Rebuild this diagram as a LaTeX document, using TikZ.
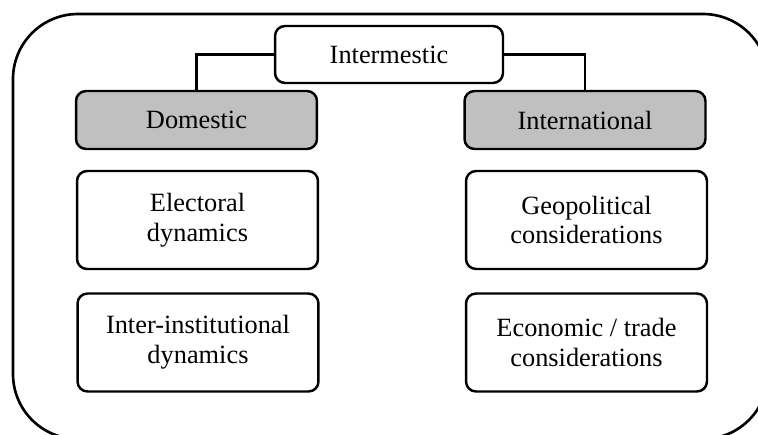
\documentclass[tikz,border=0pt]{standalone}
\usepackage{fontspec}
\setmainfont{Liberation Serif}
\definecolor{headgray}{RGB}{192,192,192}
\begin{document}
\begin{tikzpicture}[x=0.02cm, y=-0.02cm,
    box/.style={draw, line width=1.4pt, rounded corners=0.2cm, align=center,
      font=\fontsize{15}{17}\selectfont, inner sep=0pt,
      minimum width=4.82cm, minimum height=1.96cm},
    headbox/.style={box, fill=headgray, minimum height=1.16cm}]
  \useasboundingbox (0,0) rectangle (758,434);
  % outer frame, runs off the right and bottom
  \draw[line width=1.5pt, rounded corners=1.3cm] (13,14) rectangle (768,439);

  \node[box, minimum width=4.56cm, minimum height=1.14cm] (intermestic) at (389,54.5) {Intermestic};
  \node[headbox] (domestic) at (196.5,120) {Domestic};
  \node[headbox] (international) at (585,120) {International};

  \node[box] (electoral) at (197.5,220) {Electoral\\dynamics};
  \node[box] (institutional) at (198,342.5) {Inter-institutional\\dynamics};
  \node[box] (geopolitical) at (586.5,220) {Geopolitical\\considerations};
  \node[box] (economic) at (586.5,342.5) {Economic / trade\\considerations};

  \draw[line width=1.4pt] (intermestic.west) -| (domestic.north);
  \draw[line width=1.4pt] (intermestic.east) -| (international.north);
\end{tikzpicture}
\end{document}
